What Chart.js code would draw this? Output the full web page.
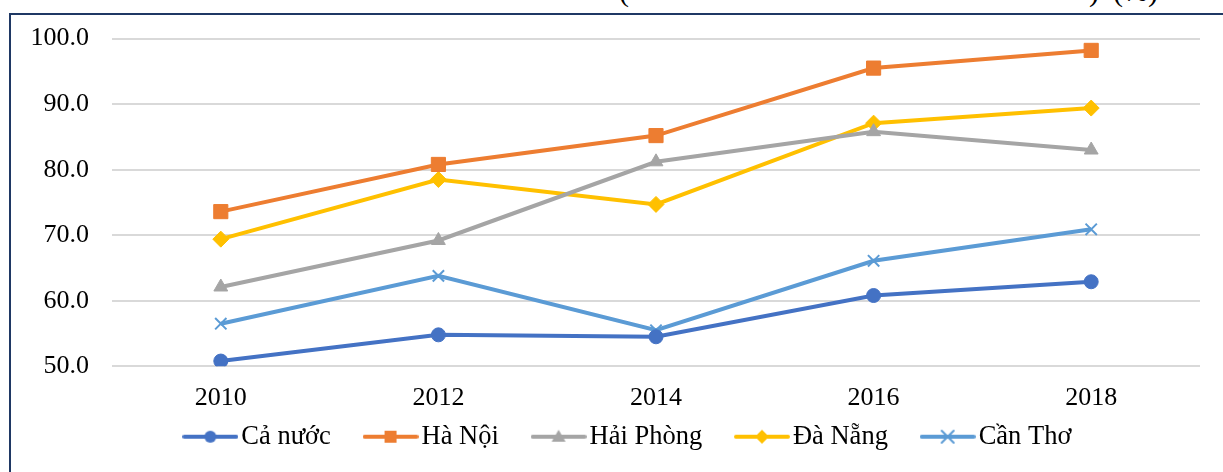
<!DOCTYPE html>
<html>
<head>
<meta charset="utf-8">
<script src="https://cdn.jsdelivr.net/npm/chart.js@4"></script>
<style>
  body { margin: 0; background: #fff; }
  #wrap { position: relative; width: 1223px; height: 472px; overflow: hidden; }
  #frame { position: absolute; left: 9px; top: 13px; width: 1400px; height: 600px;
           border-left: 2px solid #1f3864; border-top: 2px solid #1f3864; }
  .cut { position: absolute; top: -24px; font: 30px/30px "Liberation Serif", serif; color: #000; }
  canvas { position: absolute; left: 0; top: 0; }
</style>
</head>
<body>
<div id="wrap">
  <div id="frame"></div>
  <span class="cut" style="left:619px">(</span>
  <span class="cut" style="left:1089px">)</span>
  <span class="cut" style="left:1113px">(%)</span>
  <canvas id="chart" width="1223" height="472"></canvas>
</div>
<script>
const years = ['2010', '2012', '2014', '2016', '2018']
const caNuoc = [50.8, 54.8, 54.5, 60.8, 62.9]
const haNoi = [73.6, 80.8, 85.2, 95.5, 98.2]
const haiPhong = [62.1, 69.2, 81.2, 85.8, 83.0]
const daNang = [69.4, 78.5, 74.7, 87.1, 89.4]
const canTho = [56.5, 63.8, 55.5, 66.1, 70.9]

// legend sample: short line with the marker in the middle
const legendIcon = (color, marker) => {
  const c = document.createElement('canvas')
  c.width = 56; c.height = 18
  const ctx = c.getContext('2d')
  ctx.strokeStyle = color; ctx.fillStyle = color
  ctx.lineWidth = 4; ctx.lineCap = 'round'
  ctx.beginPath(); ctx.moveTo(2, 9); ctx.lineTo(54, 9); ctx.stroke()
  ctx.beginPath()
  if (marker === 'circle') { ctx.arc(28, 9, 6, 0, Math.PI * 2); ctx.fill() }
  if (marker === 'rect') { ctx.fillRect(22, 3, 12, 12) }
  if (marker === 'triangle') { ctx.moveTo(28, 2); ctx.lineTo(35, 14); ctx.lineTo(21, 14); ctx.closePath(); ctx.fill() }
  if (marker === 'rectRot') { ctx.moveTo(28, 2); ctx.lineTo(35, 9); ctx.lineTo(28, 16); ctx.lineTo(21, 9); ctx.closePath(); ctx.fill() }
  if (marker === 'crossRot') {
    ctx.lineWidth = 2
    ctx.moveTo(22, 3); ctx.lineTo(34, 15); ctx.moveTo(34, 3); ctx.lineTo(22, 15); ctx.stroke()
  }
  return c
}

const series = [
  { label: 'Cả nước', data: caNuoc, color: '#4472C4', marker: 'circle', r: 7 },
  { label: 'Hà Nội', data: haNoi, color: '#ED7D31', marker: 'rect', r: 10 },
  { label: 'Hải Phòng', data: haiPhong, color: '#A5A5A5', marker: 'triangle', r: 8 },
  { label: 'Đà Nẵng', data: daNang, color: '#FFC000', marker: 'rectRot', r: 8 },
  { label: 'Cần Thơ', data: canTho, color: '#5B9BD5', marker: 'crossRot', r: 8 }
]

const family = '"Liberation Serif", "Times New Roman", serif'

// move the legend row to where the original has it
const legendShift = {
  id: 'legendShift',
  afterLayout(chart) {
    const lg = chart.legend
    lg.left += 32; lg.right += 32
    lg.top -= 48; lg.bottom -= 48
  }
}

new Chart(document.getElementById('chart'), {
  type: 'line',
  data: {
    labels: years,
    datasets: series.map(s => ({
      label: s.label,
      data: s.data,
      borderColor: s.color,
      backgroundColor: s.color,
      borderWidth: 4,
      pointStyle: s.marker,
      pointRadius: s.r,
      pointBorderWidth: s.marker === 'crossRot' ? 2 : 1,
      tension: 0,
      icon: legendIcon(s.color, s.marker)
    }))
  },
  options: {
    responsive: false,
    animation: false,
    layout: { padding: { left: 0, right: 23, top: 21, bottom: -36 } },
    plugins: {
      tooltip: { enabled: false },
      legend: {
        position: 'bottom',
        labels: {
          usePointStyle: true,
          pointStyleWidth: 35.5,
          padding: 42,
          color: '#000',
          font: { family: family, size: 26.5 },
          generateLabels: (chart) => chart.data.datasets.map((ds, i) => ({
            text: ds.label,
            pointStyle: ds.icon,
            fillStyle: ds.borderColor,
            strokeStyle: ds.borderColor,
            lineWidth: 0,
            hidden: false,
            datasetIndex: i
          }))
        }
      }
    },
    scales: {
      x: {
        offset: true,
        grid: { display: false, drawTicks: false },
        border: { display: false },
        ticks: { color: '#000', font: { family: family, size: 26 }, padding: 16 }
      },
      y: {
        min: 50,
        max: 100,
        afterFit: (scale) => { scale.width = 112 },
        grid: { color: '#d9d9d9', lineWidth: 2, drawTicks: false },
        border: { display: false },
        ticks: {
          stepSize: 10,
          color: '#000',
          font: { family: family, size: 26 },
          padding: 23,
          callback: (v) => v.toFixed(1)
        }
      }
    }
  },
  plugins: [legendShift]
})
</script>
</body>
</html>
